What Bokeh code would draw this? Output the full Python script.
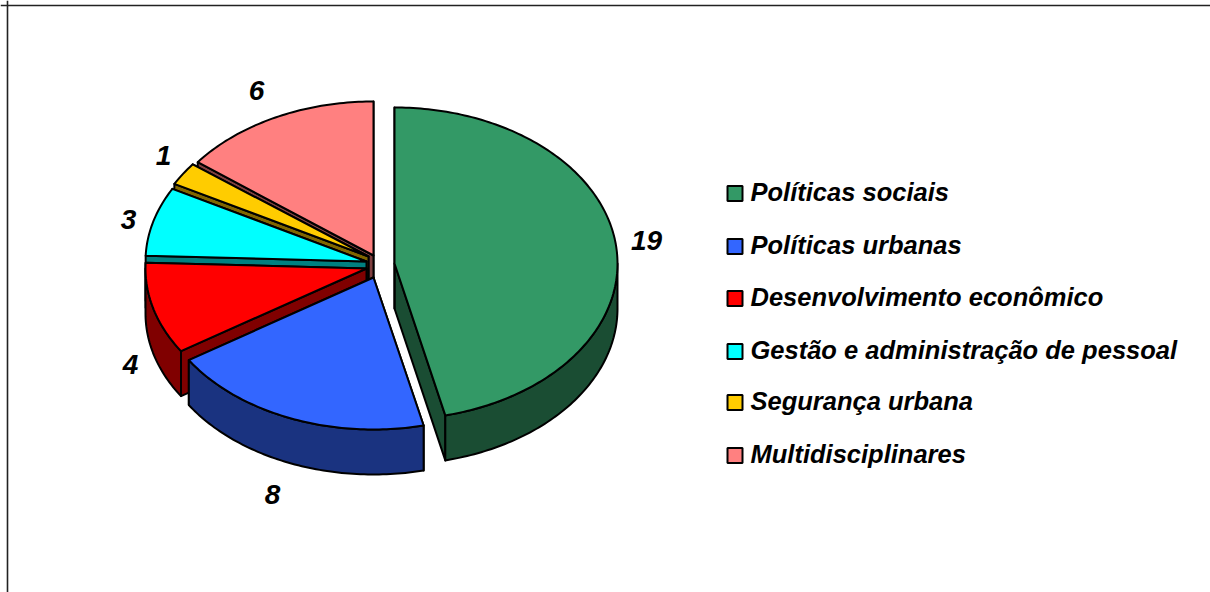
import numpy as np
from bokeh.plotting import figure
from bokeh.models import Range1d, Span
from bokeh.core.properties import value
from bokeh.embed import file_html
from bokeh.resources import INLINE

# data
categories = ["Políticas sociais", "Políticas urbanas", "Desenvolvimento econômico",
              "Gestão e administração de pessoal", "Segurança urbana", "Multidisciplinares"]
values = [19, 8, 4, 3, 1, 6]

# style
top_colors = ["#339966", "#3366FF", "#FF0000", "#00FFFF", "#FFCC00", "#FF8080"]
side_colors = ["#1A4D33", "#1A3380", "#800000", "#008080", "#806600", "#804040"]

# layout (page pixels)
apex_x = [394, 373, 366, 366, 368, 373]
apex_y = [263, 277, 268, 261, 256, 255]
radius_x = [223, 220, 221, 221, 221, 221]
radius_y = [156, 152, 152, 152, 152, 154]
DEPTH = 45
label_x = [646, 272, 130, 128, 163, 256]
label_y = [240, 494, 364, 219, 155, 90]
legend_y = [193, 246, 298, 351, 402, 455]
legend_text_y = [191.5, 244.5, 296.5, 349.5, 400.5, 453.5]
W, H = 1210, 592

p = figure(width=W, height=H, output_backend="svg", toolbar_location=None,
           x_range=Range1d(0, W), y_range=Range1d(H, 0),
           min_border=0, outline_line_color=None, background_fill_color="white")
p.axis.visible = False
p.grid.visible = False

p.add_layout(Span(location=7, dimension="height", line_color="#222222", line_width=1.6))
p.add_layout(Span(location=5, dimension="width", line_color="#222222", line_width=1.6))

total = sum(values)
edges = np.concatenate([[0], np.cumsum(values)]) / total * 2 * np.pi


def rim(i, a, b):
    t = np.linspace(a, b, max(2, int(abs(b - a) * 60)))
    return apex_x[i] + radius_x[i] * np.sin(t), apex_y[i] - radius_y[i] * np.cos(t)


def draw(xs, ys, color):
    p.patch(list(xs), list(ys), fill_color=color, line_color="black", line_width=2, line_join="round")


# back to front: last category first
for i in reversed(range(len(values))):
    a, b = edges[i], edges[i + 1]
    for ang in (b, a):
        x1, y1 = rim(i, ang, ang)
        draw([apex_x[i], x1[0], x1[0], apex_x[i]],
             [apex_y[i], y1[0], y1[0] + DEPTH, apex_y[i] + DEPTH], side_colors[i])
    lo, hi = max(a, np.pi / 2), min(b, 3 * np.pi / 2)
    if hi > lo:
        x1, y1 = rim(i, lo, hi)
        draw(np.concatenate([x1, x1[::-1]]), np.concatenate([y1, y1[::-1] + DEPTH]), side_colors[i])
    x1, y1 = rim(i, a, b)
    draw(np.concatenate([[apex_x[i]], x1]), np.concatenate([[apex_y[i]], y1]), top_colors[i])

font = value("Liberation Sans")
p.text(label_x, label_y, text=[str(v) for v in values], text_font=font, text_font_size="28px",
       text_font_style="bold italic", text_align="center", text_baseline="middle", text_color="black")

p.rect([734.5] * 6, legend_y, width=15, height=15, fill_color=top_colors, line_color="black", line_width=2)
p.text([750] * 6, legend_text_y, text=categories, text_font=font, text_font_size="25.5px",
       text_font_style="bold italic", text_align="left", text_baseline="middle", text_color="black")

open("out.html", "w").write(file_html(p, INLINE))
